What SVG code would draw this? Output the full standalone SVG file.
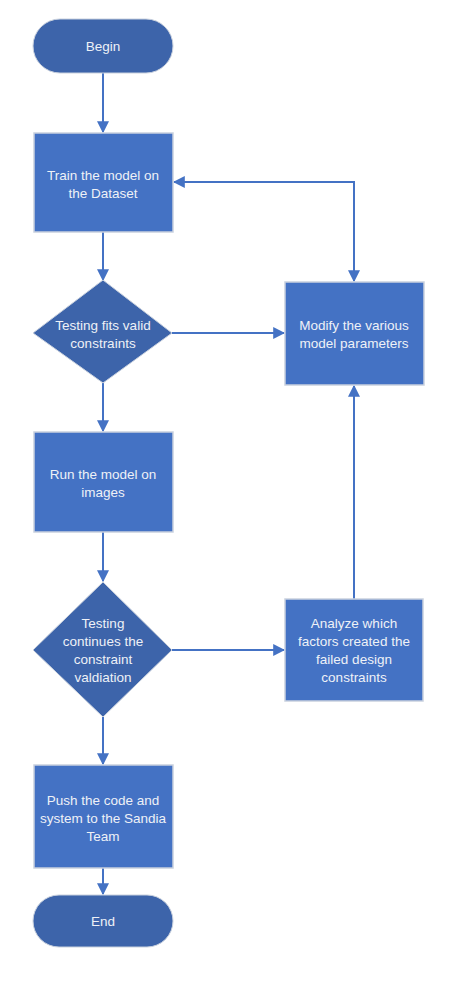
<svg xmlns="http://www.w3.org/2000/svg" width="462" height="1000" viewBox="0 0 462 1000">
<style>
.box{fill:#4472C4;stroke:#C9D1DE;stroke-width:1.5}
.dk{fill:#3D64AA;stroke:#C9D1DE;stroke-width:1}
.t{font-family:"Liberation Sans",Arial,sans-serif;font-size:13.5px;fill:#EEF1F7;text-anchor:middle}
.c{fill:none;stroke:#4472C4;stroke-width:2}
</style>
<defs>
<marker id="a" viewBox="0 0 10 10" refX="9" refY="5" markerWidth="6" markerHeight="6" orient="auto-start-reverse" markerUnits="strokeWidth">
<path d="M0,0 L10,5 L0,10 z" fill="#4472C4"/>
</marker>
</defs>
<rect width="462" height="1000" fill="#fff"/>
<g id="connectors">
<line class="c" x1="103" y1="73" x2="103" y2="132" marker-end="url(#a)"/>
<line class="c" x1="103" y1="232" x2="103" y2="280" marker-end="url(#a)"/>
<line class="c" x1="103" y1="383" x2="103" y2="431" marker-end="url(#a)"/>
<line class="c" x1="103" y1="532" x2="103" y2="581" marker-end="url(#a)"/>
<line class="c" x1="103" y1="717" x2="103" y2="764" marker-end="url(#a)"/>
<line class="c" x1="103" y1="868" x2="103" y2="894" marker-end="url(#a)"/>
<line class="c" x1="172" y1="333" x2="284" y2="333" marker-end="url(#a)"/>
<line class="c" x1="172" y1="650" x2="284" y2="650" marker-end="url(#a)"/>
<line class="c" x1="354" y1="599" x2="354" y2="386" marker-end="url(#a)"/>
<polyline class="c" points="174,182 354,182 354,281" marker-start="url(#a)" marker-end="url(#a)"/>
</g>
<g id="begin">
<rect class="dk" x="33" y="19" width="140" height="54" rx="27"/>
<text class="t" x="103" y="51">Begin</text>
</g>
<g id="train">
<rect class="box" x="34" y="133" width="139" height="99"/>
<text class="t" x="103" y="180">Train the model on</text>
<text class="t" x="103" y="198">the Dataset</text>
</g>
<g id="test1">
<polygon class="dk" points="103,280 172,333 103,383 33,333"/>
<text class="t" x="103" y="330">Testing fits valid</text>
<text class="t" x="103" y="348">constraints</text>
</g>
<g id="modify">
<rect class="box" x="285" y="282" width="139" height="103"/>
<text class="t" x="354" y="330">Modify the various</text>
<text class="t" x="354" y="348">model parameters</text>
</g>
<g id="run">
<rect class="box" x="34" y="432" width="139" height="100"/>
<text class="t" x="103" y="479">Run the model on</text>
<text class="t" x="103" y="497">images</text>
</g>
<g id="test2">
<polygon class="dk" points="103,582 172,650 103,717 33,650"/>
<text class="t" x="103" y="628">Testing</text>
<text class="t" x="103" y="646">continues the</text>
<text class="t" x="103" y="664">constraint</text>
<text class="t" x="103" y="682">valdiation</text>
</g>
<g id="analyze">
<rect class="box" x="285" y="599" width="138" height="102"/>
<text class="t" x="354" y="628">Analyze which</text>
<text class="t" x="354" y="646">factors created the</text>
<text class="t" x="354" y="664">failed design</text>
<text class="t" x="354" y="682">constraints</text>
</g>
<g id="push">
<rect class="box" x="34" y="765" width="139" height="103"/>
<text class="t" x="103" y="805">Push the code and</text>
<text class="t" x="103" y="823">system to the Sandia</text>
<text class="t" x="103" y="841">Team</text>
</g>
<g id="end">
<rect class="dk" x="33" y="895" width="140" height="52" rx="26"/>
<text class="t" x="103" y="926">End</text>
</g>
</svg>
